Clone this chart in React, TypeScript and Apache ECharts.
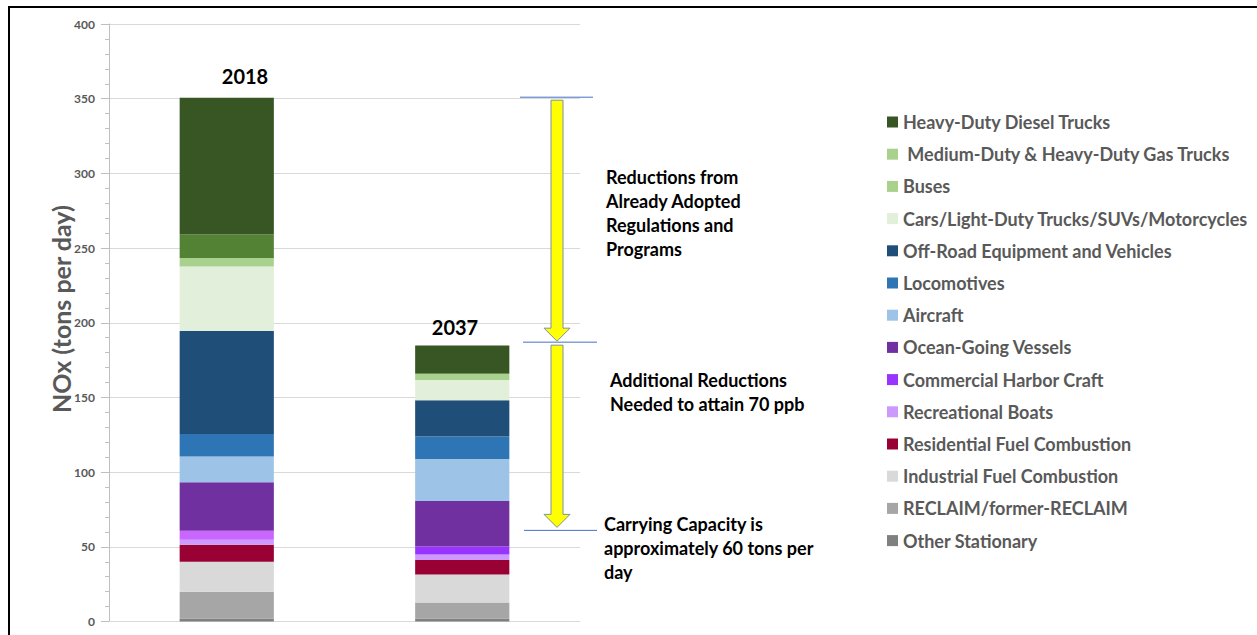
import React, { useEffect, useRef } from "react";
import * as echarts from "echarts";

const years = ["2018", "2037"];

// Stack order: bottom to top
const seriesNames = [
  "Other Stationary",
  "RECLAIM/former-RECLAIM",
  "Industrial Fuel Combustion",
  "Residential Fuel Combustion",
  "Recreational Boats",
  "Commercial Harbor Craft",
  "Ocean-Going Vessels",
  "Aircraft",
  "Locomotives",
  "Off-Road Equipment and Vehicles",
  "Cars/Light-Duty Trucks/SUVs/Motorcycles",
  "Buses",
  " Medium-Duty & Heavy-Duty Gas Trucks",
  "Heavy-Duty Diesel Trucks",
];

const seriesColors = [
  "#808080",
  "#a6a6a6",
  "#d9d9d9",
  "#990033",
  "#cc99ff",
  "#9933ff",
  "#7030a0",
  "#9dc3e6",
  "#2e75b6",
  "#1f4e79",
  "#e2efda",
  "#a9d18e",
  "#548235",
  "#375623",
];

const legendSwatchColors = [
  "#808080",
  "#a6a6a6",
  "#d9d9d9",
  "#990033",
  "#cc99ff",
  "#9933ff",
  "#7030a0",
  "#9dc3e6",
  "#2e75b6",
  "#1f4e79",
  "#e2efda",
  "#a9d18e",
  "#a9d18e",
  "#375623",
];

// In the 2018 bar the Commercial Harbor Craft segment is drawn lighter
const colorOverrides2018: Record<string, string> = {
  "Commercial Harbor Craft": "#c966ff",
};

const values2018 = [2, 18, 20, 11.3, 3.5, 6, 32.4, 17.2, 15.2, 68.9, 43.1, 5.8, 15.6, 91.7];
const values2037 = [2, 10.7, 18.8, 9.6, 3.8, 5.3, 30.4, 28.2, 15.1, 24.2, 13.6, 4, 0.5, 18.5];

const yTicks = [0, 400, 50];
const yAxisTitle = "NOx (tons per day)";
const annotationLevels = [351, 187, 61];

const text1 = ["Reductions from", "Already Adopted", "Regulations and", "Programs"];
const text2 = ["Additional Reductions", "Needed to attain 70 ppb"];
const text3 = ["Carrying Capacity is", "approximately 60 tons per", "day"];

const FONT = "Lato, 'Open Sans', sans-serif";

export default function App() {
  const ref = useRef<HTMLDivElement>(null);

  useEffect(() => {
    document.body.style.margin = "0";
    if (!ref.current) return;
    const chart = echarts.init(ref.current, null, { renderer: "svg" });

    const series = seriesNames.map((name, i) => ({
      name,
      type: "bar",
      stack: "total",
      barWidth: "40%",
      itemStyle: { color: seriesColors[i] },
      data: [
        colorOverrides2018[name]
          ? { value: values2018[i], itemStyle: { color: colorOverrides2018[name] } }
          : values2018[i],
        values2037[i],
      ],
    }));

    chart.setOption({
      animation: false,
      backgroundColor: "#ffffff",
      grid: { left: 109, right: 677, top: 24, bottom: 13.5 },
      legend: {
        orient: "vertical",
        left: 887,
        top: 112,
        padding: 0,
        itemWidth: 11,
        itemHeight: 11,
        itemGap: 12.2,
        icon: "rect",
        selectedMode: false,
        textStyle: {
          color: "#595959",
          fontWeight: "bold",
          fontSize: 18,
          lineHeight: 20,
          fontFamily: FONT,
        },
        data: seriesNames
          .map((n, i) => ({ name: n, itemStyle: { color: legendSwatchColors[i] } }))
          .reverse(),
      },
      xAxis: {
        type: "category",
        data: years,
        axisLabel: { show: false },
        axisTick: { show: false },
        axisLine: { show: true, lineStyle: { color: "#d9d9d9" } },
      },
      yAxis: {
        type: "value",
        min: yTicks[0],
        max: yTicks[1],
        interval: yTicks[2],
        axisLine: { show: true, lineStyle: { color: "#bfbfbf" } },
        axisTick: { show: true, length: 8, lineStyle: { color: "#bfbfbf" } },
        minorTick: { show: true, splitNumber: 5, length: 4, lineStyle: { color: "#bfbfbf" } },
        axisLabel: {
          color: "#595959",
          fontSize: 12,
          fontWeight: "bold",
          margin: 14,
          fontFamily: FONT,
        },
        splitLine: { show: true, lineStyle: { color: "#d9d9d9" } },
      },
      series,
    });

    const py = (v: number) => chart.convertToPixel({ yAxisIndex: 0 }, v) as number;
    const total2018 = values2018.reduce((a, b) => a + b, 0);
    const total2037 = values2037.reduce((a, b) => a + b, 0);

    const y1 = py(annotationLevels[0]);
    const y2 = py(annotationLevels[1]);
    const y3 = py(annotationLevels[2]);
    const cx = 557;

    const arrow = (top: number, tip: number) => ({
      type: "polygon",
      shape: {
        points: [
          [cx - 6, top],
          [cx + 6, top],
          [cx + 6, tip - 13],
          [cx + 13, tip - 13],
          [cx, tip],
          [cx - 13, tip - 13],
          [cx - 6, tip - 13],
        ],
      },
      style: { fill: "#ffff00", stroke: "#7f8fa6", lineWidth: 1 },
    });

    const blueLine = (x1: number, x2: number, y: number) => ({
      type: "line",
      shape: { x1, y1: y, x2, y2: y },
      style: { stroke: "#4472c4", lineWidth: 1 },
    });

    const textBlock = (lines: string[], x: number, yStart: number) =>
      lines.map((t, i) => ({
        type: "text",
        x,
        y: yStart + i * 24,
        style: {
          text: t,
          fill: "#000000",
          font: `bold 18px ${FONT}`,
          verticalAlign: "middle",
        },
      }));

    chart.setOption({
      graphic: [
        {
          type: "line",
          shape: { x1: 8, y1: 7, x2: 1257, y2: 7 },
          style: { stroke: "#000000", lineWidth: 2 },
        },
        {
          type: "line",
          shape: { x1: 9, y1: 7, x2: 9, y2: 635 },
          style: { stroke: "#000000", lineWidth: 2 },
        },
        {
          type: "text",
          x: 61,
          y: 309,
          rotation: Math.PI / 2,
          style: {
            text: yAxisTitle,
            fill: "#595959",
            font: `bold 25px ${FONT}`,
            align: "center",
            verticalAlign: "middle",
          },
        },
        {
          type: "text",
          x: 245,
          y: py(total2018) - 22,
          style: {
            text: years[0],
            fill: "#000000",
            font: `bold 20px ${FONT}`,
            align: "center",
            verticalAlign: "middle",
          },
        },
        {
          type: "text",
          x: 455,
          y: py(total2037) - 19,
          style: {
            text: years[1],
            fill: "#000000",
            font: `bold 20px ${FONT}`,
            align: "center",
            verticalAlign: "middle",
          },
        },
        blueLine(520, 593, y1),
        blueLine(523, 597, y2),
        blueLine(524, 597, y3),
        arrow(y1 + 3, y2 - 1),
        arrow(y2 + 3, y3 - 3),
        ...textBlock(text1, 606, 177),
        ...textBlock(text2, 610, 380),
        ...textBlock(text3, 604, 524),
      ],
    });

    return () => chart.dispose();
  }, []);

  return <div ref={ref} style={{ width: 1257, height: 635 }} />;
}
